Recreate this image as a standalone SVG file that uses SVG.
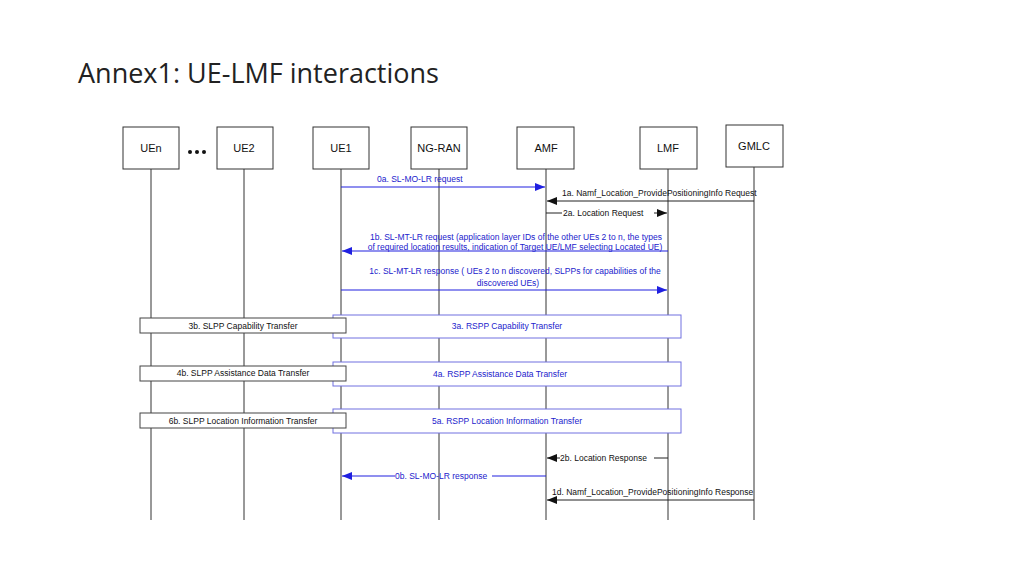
<svg xmlns="http://www.w3.org/2000/svg" width="1024" height="576" viewBox="0 0 1024 576">
<style>
.n rect{fill:#fff;stroke:#333;stroke-width:1}
.t{font-family:"Liberation Sans",Arial,sans-serif;font-size:11px;fill:#111;text-anchor:middle}
.s{font-family:"Liberation Sans",Arial,sans-serif;font-size:8.5px;fill:#111}
.b{fill:#2222cc}
.ll{stroke:#333;stroke-width:1}
.mb{stroke:#2020e0;stroke-width:1.2;fill:none}
.mk{stroke:#222;stroke-width:1;fill:none}
.bb{fill:#fff;stroke:#7070e0;stroke-width:1}
.kb{fill:#fff;stroke:#444;stroke-width:1}
</style>
<defs>
<marker id="ab" markerWidth="10" markerHeight="8" refX="10" refY="4" orient="auto" markerUnits="userSpaceOnUse"><path d="M0,0L10,4L0,8z" fill="#2020e0"/></marker>
<marker id="ak" markerWidth="10" markerHeight="8" refX="10" refY="4" orient="auto" markerUnits="userSpaceOnUse"><path d="M0,0L10,4L0,8z" fill="#111"/></marker>
</defs>
<rect width="1024" height="576" fill="#fff"/>
<text x="78" y="83" style="font-family:'Open Sans','Liberation Sans',sans-serif;font-size:27px;fill:#222">Annex1: UE-LMF interactions</text>
<g id="lifelines">
<line class="ll" x1="151" y1="169" x2="151" y2="520"/>
<line class="ll" x1="244" y1="169" x2="244" y2="520"/>
<line class="ll" x1="341" y1="169" x2="341" y2="520"/>
<line class="ll" x1="439" y1="169" x2="439" y2="520"/>
<line class="ll" x1="546" y1="169" x2="546" y2="520"/>
<line class="ll" x1="668" y1="169" x2="668" y2="520"/>
<line class="ll" x1="754" y1="167" x2="754" y2="520"/>
</g>
<g id="UEn" class="n"><rect x="123" y="127" width="56" height="42"/><text class="t" x="151" y="152">UEn</text></g>
<g id="dots"><circle cx="190" cy="152" r="2" fill="#111"/><circle cx="197" cy="152" r="2" fill="#111"/><circle cx="204" cy="152" r="2" fill="#111"/></g>
<g id="UE2" class="n"><rect x="217" y="127" width="56" height="42"/><text class="t" x="244" y="152">UE2</text></g>
<g id="UE1" class="n"><rect x="313" y="127" width="56" height="42"/><text class="t" x="341" y="152">UE1</text></g>
<g id="NG-RAN" class="n"><rect x="411" y="127" width="56" height="42"/><text class="t" x="439" y="152">NG-RAN</text></g>
<g id="AMF" class="n"><rect x="517" y="127" width="57" height="42"/><text class="t" x="546" y="152">AMF</text></g>
<g id="LMF" class="n"><rect x="640" y="127" width="57" height="42"/><text class="t" x="668" y="152">LMF</text></g>
<g id="GMLC" class="n"><rect x="726" y="125" width="57" height="42"/><text class="t" x="754" y="150">GMLC</text></g>
<g id="connectors">
<line class="mb" x1="341" y1="187" x2="545" y2="187" marker-end="url(#ab)"/>
<text class="s b" x="377" y="182">0a. SL-MO-LR request</text>
<line class="mk" x1="754" y1="201" x2="547" y2="201" marker-end="url(#ak)"/>
<text class="s" x="562" y="196">1a. Namf_Location_ProvidePositioningInfo Request</text>
<line class="mk" x1="546" y1="213" x2="562" y2="213"/>
<line class="mk" x1="654" y1="213" x2="667" y2="213" marker-end="url(#ak)"/>
<text class="s" x="563" y="216">2a. Location  Request</text>
<line class="mb" x1="668" y1="251" x2="342" y2="251" marker-end="url(#ab)"/>
<text class="s b" x="516" y="240" text-anchor="middle">1b. SL-MT-LR request (application layer IDs of the other UEs 2 to n, the types</text>
<text class="s b" x="515" y="250" text-anchor="middle">of required location results,  indication of Target UE/LMF selecting Located UE)</text>
<line class="mb" x1="341" y1="290" x2="667" y2="290" marker-end="url(#ab)"/>
<text class="s b" x="515" y="274" text-anchor="middle">1c. SL-MT-LR response ( UEs 2 to n  discovered, SLPPs for capabilities of the</text>
<text class="s b" x="508" y="286" text-anchor="middle">discovered UEs)</text>
<line class="mk" x1="654" y1="458" x2="668" y2="458"/>
<line class="mk" x1="560" y1="458" x2="547" y2="458" marker-end="url(#ak)"/>
<text class="s" x="560" y="461">2b. Location  Response</text>
<line class="mb" x1="546" y1="476" x2="492" y2="476"/>
<line class="mb" x1="395" y1="476" x2="342" y2="476" marker-end="url(#ab)"/>
<text class="s b" x="395" y="479">0b. SL-MO-LR response</text>
<line class="mk" x1="754" y1="500" x2="547" y2="500" marker-end="url(#ak)"/>
<text class="s" x="552" y="495">1d. Namf_Location_ProvidePositioningInfo Response</text>
</g>
<g id="box3a"><rect class="bb" x="333" y="315" width="348" height="23"/><text class="s b" x="507" y="329" text-anchor="middle">3a. RSPP Capability Transfer</text></g>
<g id="box3b"><rect class="kb" x="140" y="318" width="206" height="15"/><text class="s" x="243" y="329" text-anchor="middle">3b. SLPP Capability Transfer</text></g>
<g id="box4a"><rect class="bb" x="333" y="362" width="348" height="24"/><text class="s b" x="500" y="377" text-anchor="middle">4a. RSPP Assistance Data Transfer</text></g>
<g id="box4b"><rect class="kb" x="140" y="366" width="206" height="15"/><text class="s" x="243" y="376" text-anchor="middle">4b. SLPP Assistance Data Transfer</text></g>
<g id="box5a"><rect class="bb" x="333" y="409" width="348" height="24"/><text class="s b" x="507" y="424" text-anchor="middle">5a. RSPP Location Information Transfer</text></g>
<g id="box6b"><rect class="kb" x="140" y="413" width="206" height="15"/><text class="s" x="243" y="424" text-anchor="middle">6b. SLPP Location Information Transfer</text></g>
</svg>
